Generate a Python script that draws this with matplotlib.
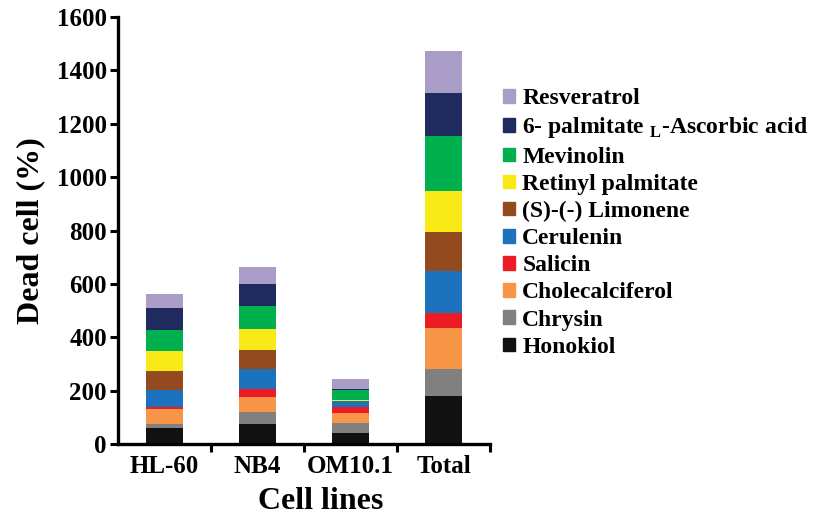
import numpy as np
import matplotlib
matplotlib.use("Agg")
import matplotlib.pyplot as plt
import matplotlib.patches as mpatches

plt.rcParams['font.family'] = ['Liberation Serif', 'DejaVu Serif']
plt.rcParams['font.weight'] = 'bold'
plt.rcParams['mathtext.fontset'] = 'custom'
plt.rcParams['mathtext.rm'] = 'Liberation Serif:bold'

# cell lines on the x axis
cell_lines = ['HL-60', 'NB4', 'OM10.1', 'Total']

# compounds, stacked from bottom to top
compounds = ['Honokiol', 'Chrysin', 'Cholecalciferol', 'Salicin', 'Cerulenin',
             '(S)-(-) Limonene', 'Retinyl palmitate', 'Mevinolin',
             '6- palmitate $_{\\mathrm{L}}$-Ascorbic acid', 'Resveratrol']
colors = ['#111111', '#808080', '#f79646', '#ed1c24', '#1c72bd',
          '#944a1f', '#f7ea16', '#00b04f', '#1f2a5e', '#a99cc6']

# dead cell (%) per compound, one value per cell line (HL-60, NB4, OM10.1, Total)
honokiol = [60, 74, 40, 181]
chrysin = [17, 47, 40, 99]
cholecalciferol = [54, 57, 37, 156]
salicin = [8, 30, 21, 54]
cerulenin = [65, 72, 23, 158]
limonene = [69, 74, 2, 146]
retinyl = [76, 78, 4, 153]
mevinolin = [78, 84, 37, 206]
ascorbic = [83, 83, 3, 164]
resveratrol = [54, 63, 36, 157]

series = [honokiol, chrysin, cholecalciferol, salicin, cerulenin,
          limonene, retinyl, mevinolin, ascorbic, resveratrol]

fig = plt.figure(figsize=(8.13, 5.14), dpi=100)
ax = fig.add_axes([0.145, 0.136, 0.458, 0.831])

x = np.arange(len(cell_lines))
bottom = np.zeros(len(cell_lines))
for vals, col, name in zip(series, colors, compounds):
    ax.bar(x, vals, width=0.4, bottom=bottom, color=col, label=name, linewidth=0)
    bottom += np.array(vals)

ax.set_xlim(-0.5, 3.5)
ax.set_ylim(0, 1600)
ax.set_yticks(np.arange(0, 1601, 200))
ax.set_xticks(x)
ax.set_xticklabels(cell_lines)
ax.set_xticks(np.arange(0.5, 3.6, 1), minor=True)
ax.tick_params(axis='x', which='major', length=0, labelsize=18, pad=8)
ax.tick_params(axis='x', which='minor', length=6, width=2.2)
ax.tick_params(axis='y', length=6, width=2.2, labelsize=18, pad=2)

for s in ['top', 'right']:
    ax.spines[s].set_visible(False)
for s in ['left', 'bottom']:
    ax.spines[s].set_linewidth(2.4)

ax.set_ylabel('Dead cell (%)', fontsize=23, fontweight='bold', labelpad=8)
ax.set_xlabel('Cell lines', fontsize=23, fontweight='bold', labelpad=6)
ax.xaxis.label.set_x(0.545)

handles = [mpatches.Patch(color=c, label=n) for c, n in zip(colors, compounds)][::-1]
leg = ax.legend(handles=handles, loc='upper left', bbox_to_anchor=(1.01, 0.855),
                frameon=False, fontsize=17, handlelength=0.5, handleheight=0.5,
                handletextpad=0.3, labelspacing=0.26, borderaxespad=0)

fig.savefig('out.png', dpi=100)
